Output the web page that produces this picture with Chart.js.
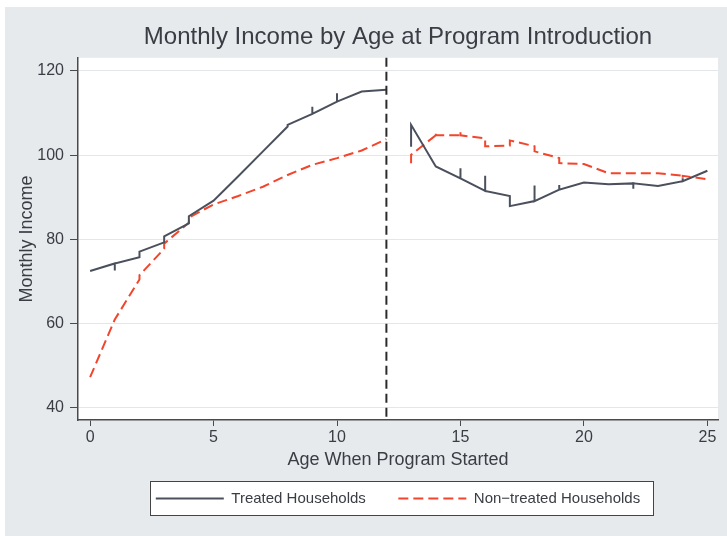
<!DOCTYPE html>
<html>
<head>
<meta charset="utf-8">
<script src="https://cdn.jsdelivr.net/npm/chart.js@4"></script>
<style>
  html, body { margin: 0; padding: 0; background: #fff; }
  #wrap { width: 727px; height: 536px; }
</style>
</head>
<body>
<div id="wrap"><canvas id="incomeChart" width="727" height="536"></canvas></div>
<script>
// values; a repeated age draws the small vertical spikes
const ageT = [0, 1, 1, 1, 2, 2, 3, 3, 4, 4, 5, 6, 7, 8, 8, 9, 9, 9, 10, 10, 10, 11, 12, 12,
    13, 13, 14, 15, 15, 15, 16, 16, 16, 17, 17, 18, 18, 18, 19, 19, 19, 20, 21, 22, 22, 22, 23, 24, 24, 24, 25];
const incomeT = [72.5, 74.3, 72.6, 74.3, 75.8, 77.1, 79.3, 80.7, 83.8, 85.5, 89.2, 95.0, 100.9, 106.8, 107.2,
    109.8, 111.5, 109.8, 112.7, 114.7, 112.7, 115.1, 115.5, null,
    102.0, 107.2, 97.3, 94.5, 96.9, 94.5, 91.5, 95.1, 91.5, 90.3, 87.9, 89.1, 92.8, 89.1,
    91.8, 92.9, 91.8, 93.5, 93.1, 93.3, 92.0, 93.3, 92.7, 93.8, 94.5, 93.8, 96.3];

const ageN = [0, 1, 2, 2, 3, 3, 4, 4, 5, 6, 7, 8, 9, 10, 11, 12, 12,
    13, 13, 14, 14, 14, 15, 15, 15, 16, 16, 17, 17, 18, 18, 19, 19, 20, 21, 22, 23, 24, 24, 24, 25];
const incomeN = [47.3, 61.0, 70.5, 71.5, 77.8, 79.0, 84.0, 85.2, 88.3, 90.3, 92.5, 95.3, 97.7, 99.3, 101.1, 103.8, null,
    98.1, 100.1, 104.7, 105.5, 104.7, 104.7, 105.5, 104.7, 104.0, 102.1, 102.3, 103.5, 102.1, 100.9,
    99.3, 98.1, 97.9, 95.7, 95.7, 95.7, 95.1, 94.5, 95.1, 94.3];

const xTicks = [0, 5, 10, 15, 20, 25];
const yTicks = [40, 60, 80, 100, 120];
const cutoffAge = 12;

const FONT = "'Liberation Sans', Arial, sans-serif";
const textColor = "#3a3d44";
const axisColor = "#4a4a4a";

function toPoints(xs, ys) {
    return xs.map((x, i) => ({ x: x, y: ys[i] }));
}

const stataFrame = {
    id: "stataFrame",
    beforeDraw(chart) {
        const ctx = chart.ctx;
        const a = chart.chartArea;
        ctx.save();
        ctx.fillStyle = "#ffffff";
        ctx.fillRect(0, 0, chart.width, chart.height);
        ctx.fillStyle = "#e7eaed";
        ctx.fillRect(5, 7, chart.width - 5, chart.height - 7);
        ctx.fillStyle = "#ffffff";
        ctx.fillRect(a.left, a.top, a.right - a.left, a.bottom - a.top);

        // legend frame
        const boxes = chart.legend.legendHitBoxes;
        if (boxes && boxes.length) {
            const l = Math.min(...boxes.map(b => b.left)) - 6;
            const r = Math.max(...boxes.map(b => b.left + b.width)) + 13;
            const t = chart.legend.top;
            const b = chart.legend.bottom - 1;
            ctx.fillStyle = "#ffffff";
            ctx.fillRect(l, t, r - l, b - t);
            ctx.strokeStyle = "#444";
            ctx.lineWidth = 1;
            ctx.strokeRect(Math.round(l) + 0.5, Math.round(t) + 0.5, Math.round(r - l), Math.round(b - t));
        }
        ctx.restore();
    },
    afterDatasetsDraw(chart) {
        const ctx = chart.ctx;
        const a = chart.chartArea;
        const px = chart.scales.x.getPixelForValue(cutoffAge);
        ctx.save();
        ctx.strokeStyle = "#2b2b2b";
        ctx.lineWidth = 2;
        ctx.setLineDash([9, 5]);
        ctx.beginPath();
        ctx.moveTo(px, a.top);
        ctx.lineTo(px, a.bottom);
        ctx.stroke();
        ctx.restore();
    }
};

const ctx = document.getElementById("incomeChart").getContext("2d");
new Chart(ctx, {
    type: "line",
    data: {
        datasets: [{
            label: "Treated Households",
            data: toPoints(ageT, incomeT),
            borderColor: "#4b505d",
            backgroundColor: "#4b505d",
            borderWidth: 2,
            pointRadius: 0,
            tension: 0,
            spanGaps: false
        }, {
            label: "Non\u2212treated Households",
            data: toPoints(ageN, incomeN),
            borderColor: "#f2452b",
            backgroundColor: "#f2452b",
            borderWidth: 2,
            borderDash: [10, 5],
            pointRadius: 0,
            tension: 0,
            spanGaps: false
        }]
    },
    options: {
        responsive: false,
        animation: false,
        layout: { padding: { left: 0, right: 9, top: 0, bottom: 20 } },
        plugins: {
            title: {
                display: true,
                text: "Monthly Income by Age at Program Introduction",
                color: textColor,
                fullSize: false,
                font: { family: FONT, size: 24, weight: "normal" },
                padding: { top: 23, bottom: 6 }
            },
            legend: {
                position: "bottom",
                fullSize: false,
                labels: {
                    usePointStyle: true,
                    pointStyle: "line",
                    pointStyleWidth: 68,
                    color: textColor,
                    padding: 10,
                    font: { family: FONT, size: 15 },
                    generateLabels(chart) {
                        const items = Chart.defaults.plugins.legend.labels.generateLabels(chart);
                        items.forEach(it => {
                            const ds = chart.data.datasets[it.datasetIndex];
                            it.lineDash = ds.borderDash || [];
                            it.lineWidth = 2;
                            it.strokeStyle = ds.borderColor;
                        });
                        // wider gap between the two keys, as in the original
                        items[0].text += "\u2003\u2002";
                        return items;
                    }
                }
            },
            tooltip: { enabled: false }
        },
        scales: {
            x: {
                type: "linear",
                min: -0.49,
                max: 25.43,
                afterBuildTicks: s => { s.ticks = xTicks.map(v => ({ value: v })); },
                afterFit: s => { s.height = 61; },
                grid: { drawOnChartArea: false, tickLength: 6, tickColor: axisColor, tickWidth: 1 },
                border: { display: true, color: axisColor, width: 1.5 },
                ticks: { color: textColor, padding: 2, font: { family: FONT, size: 16 } },
                title: {
                    display: true,
                    text: "Age When Program Started",
                    color: textColor,
                    font: { family: FONT, size: 18 },
                    padding: { top: 0, bottom: 10 }
                }
            },
            y: {
                min: 37.15,
                max: 123.1,
                afterBuildTicks: s => { s.ticks = yTicks.map(v => ({ value: v })); },
                afterFit: s => { s.width = 78; },
                grid: { color: "#e3e7ea", lineWidth: 1, tickLength: 8, tickColor: axisColor, tickWidth: 1 },
                border: { display: true, color: axisColor, width: 1.5 },
                ticks: { color: textColor, padding: 6, font: { family: FONT, size: 16 } },
                title: {
                    display: true,
                    text: "Monthly Income",
                    color: textColor,
                    font: { family: FONT, size: 18 },
                    padding: { top: 16, bottom: 0 }
                }
            }
        }
    },
    plugins: [stataFrame]
});
</script>
</body>
</html>
